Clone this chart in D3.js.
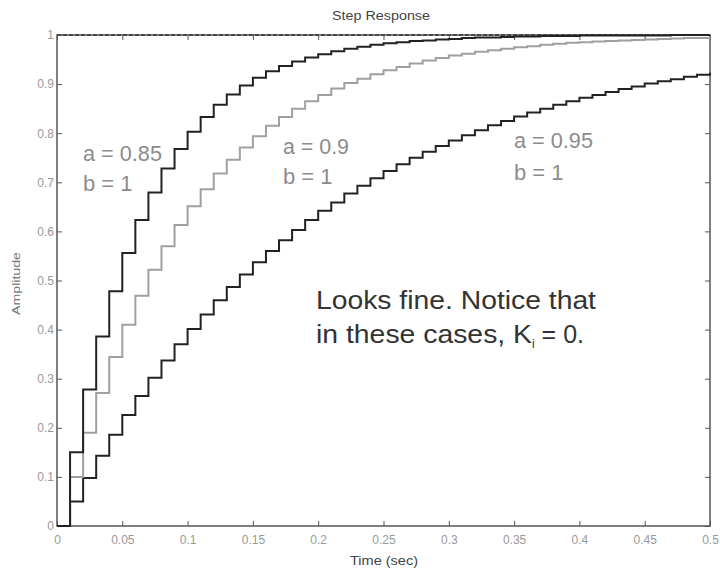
<!DOCTYPE html>
<html><head><meta charset="utf-8">
<script src="https://cdn.jsdelivr.net/npm/d3@7"></script>
<style>body{margin:0;background:#fff}svg{display:block}text{font-family:"Liberation Sans",Arial,sans-serif}</style>
</head><body><svg id="c" width="720" height="572"></svg>
<script>
const sampleTimes = [0,0.01,0.02,0.03,0.04,0.05,0.06,0.07,0.08,0.09,0.1,0.11,0.12,0.13,0.14,0.15,0.16,0.17,0.18,0.19,0.2,0.21,0.22,0.23,0.24,0.25,0.26,0.27,0.28,0.29,0.3,0.31,0.32,0.33,0.34,0.35,0.36,0.37,0.38,0.39,0.4,0.41,0.42,0.43,0.44,0.45,0.46,0.47,0.48,0.49,0.5];
const respA085 = [0,0.15,0.278,0.386,0.478,0.556,0.623,0.679,0.728,0.768,0.803,0.833,0.858,0.879,0.897,0.913,0.926,0.937,0.946,0.954,0.961,0.967,0.972,0.976,0.980,0.983,0.985,0.988,0.989,0.991,0.992,0.994,0.995,0.995,0.996,0.997,0.997,0.998,0.998,0.998,0.999,0.999,0.999,0.999,0.999,0.999,0.999,1,1,1,1];
const respA090 = [0,0.1,0.19,0.271,0.344,0.410,0.469,0.522,0.570,0.613,0.651,0.686,0.718,0.746,0.771,0.794,0.815,0.833,0.850,0.865,0.878,0.891,0.902,0.911,0.920,0.928,0.935,0.942,0.948,0.953,0.958,0.962,0.966,0.969,0.972,0.975,0.977,0.980,0.982,0.984,0.985,0.987,0.988,0.989,0.990,0.991,0.992,0.993,0.994,0.994,0.995];
const respA095 = [0,0.05,0.098,0.143,0.186,0.226,0.265,0.302,0.337,0.370,0.401,0.431,0.460,0.487,0.512,0.537,0.560,0.582,0.603,0.623,0.642,0.659,0.677,0.693,0.708,0.723,0.737,0.750,0.762,0.774,0.785,0.796,0.806,0.816,0.825,0.834,0.842,0.850,0.858,0.865,0.872,0.878,0.884,0.890,0.895,0.901,0.906,0.910,0.915,0.919,0.923];
const xTicks = [0,0.05,0.1,0.15,0.2,0.25,0.3,0.35,0.4,0.45,0.5];
const xTickLabels = ["0","0.05","0.1","0.15","0.2","0.25","0.3","0.35","0.4","0.45","0.5"];
const yTicks = [0,0.1,0.2,0.3,0.4,0.5,0.6,0.7,0.8,0.9,1];
const yTickLabels = ["0","0.1","0.2","0.3","0.4","0.5","0.6","0.7","0.8","0.9","1"];
const seriesNames = ["a = 0.85","a = 0.9","a = 0.95"];
const seriesB = ["b = 1","b = 1","b = 1"];
const titleText = "Step Response";
const xLabel = "Time (sec)";
const yLabel = "Amplitude";
const noteLines = ["Looks fine. Notice that","in these cases, K"];

const svg = d3.select("#c");
const L=57,R=710,T=35,B=526;
const x = d3.scaleLinear().domain([0,0.5]).range([L,R]);
const y = d3.scaleLinear().domain([0,1]).range([B,T]);

svg.append("rect").attr("x",L).attr("y",T).attr("width",R-L).attr("height",B-T)
  .attr("fill","none").attr("stroke","#555").attr("stroke-width",1.5);
svg.append("line").attr("x1",L).attr("x2",R).attr("y1",y(1)).attr("y2",y(1))
  .attr("stroke","#333").attr("stroke-width",1.5).attr("stroke-dasharray","4,2");

const tickStyle = g => { g.select(".domain").remove(); g.selectAll("line").attr("stroke","#555");
  g.selectAll("text").attr("fill","#999").attr("font-size","12px"); };
svg.append("g").attr("transform",`translate(0,${B})`)
  .call(d3.axisBottom(x).tickValues(xTicks).tickFormat((d,i)=>xTickLabels[i]).tickSize(-5).tickPadding(9)).call(tickStyle);
svg.append("g").attr("transform",`translate(0,${T})`)
  .call(d3.axisTop(x).tickValues(xTicks).tickFormat("").tickSize(-5)).call(tickStyle);
svg.append("g").attr("transform",`translate(${L},0)`)
  .call(d3.axisLeft(y).tickValues(yTicks).tickFormat((d,i)=>yTickLabels[i]).tickSize(-5).tickPadding(3)).call(tickStyle);
svg.append("g").attr("transform",`translate(${R},0)`)
  .call(d3.axisRight(y).tickValues(yTicks).tickFormat("").tickSize(-5)).call(tickStyle);

const line = d3.line().x((d,i)=>x(sampleTimes[i])).y(d=>y(d)).curve(d3.curveStepAfter);
const data = [[respA095,"#222"],[respA090,"#a0a0a0"],[respA085,"#222"]];
svg.selectAll("path.s").data(data).join("path").attr("class","s")
  .attr("d",d=>line(d[0])).attr("fill","none").attr("stroke",d=>d[1]).attr("stroke-width",2);

svg.append("text").attr("x",332).attr("y",20).attr("font-size","12px").attr("fill","#444")
  .attr("textLength",98).attr("lengthAdjust","spacingAndGlyphs").text(titleText);
svg.append("text").attr("x",350).attr("y",565).attr("font-size","12px").attr("fill","#444")
  .attr("textLength",68).attr("lengthAdjust","spacingAndGlyphs").text(xLabel);
svg.append("text").attr("transform","translate(20,315) rotate(-90)").attr("font-size","11px").attr("fill","#777")
  .attr("textLength",63).attr("lengthAdjust","spacingAndGlyphs").text(yLabel);

const annPos = [[83,161,191,79],[283,154,184,66],[514,148,180,79]];
annPos.forEach((p,i)=>{
  svg.append("text").attr("x",p[0]).attr("y",p[1]).attr("font-size","22px").attr("fill","#8c8c8c")
    .attr("textLength",p[3]).attr("lengthAdjust","spacingAndGlyphs").text(seriesNames[i]);
  svg.append("text").attr("x",p[0]).attr("y",p[2]).attr("font-size","22px").attr("fill","#8c8c8c").text(seriesB[i]);
});
svg.append("text").attr("x",316).attr("y",309).attr("font-size","25px").attr("fill","#333")
  .attr("textLength",280).attr("lengthAdjust","spacingAndGlyphs").text(noteLines[0]);
const t2 = svg.append("text").attr("x",316).attr("y",343).attr("font-size","25px").attr("fill","#333");
t2.append("tspan").attr("textLength",216).attr("lengthAdjust","spacingAndGlyphs").text(noteLines[1]);
t2.append("tspan").attr("font-size","12px").attr("dy",5).text("i");
t2.append("tspan").attr("dy",-5).text(" = 0.");
</script></body></html>
